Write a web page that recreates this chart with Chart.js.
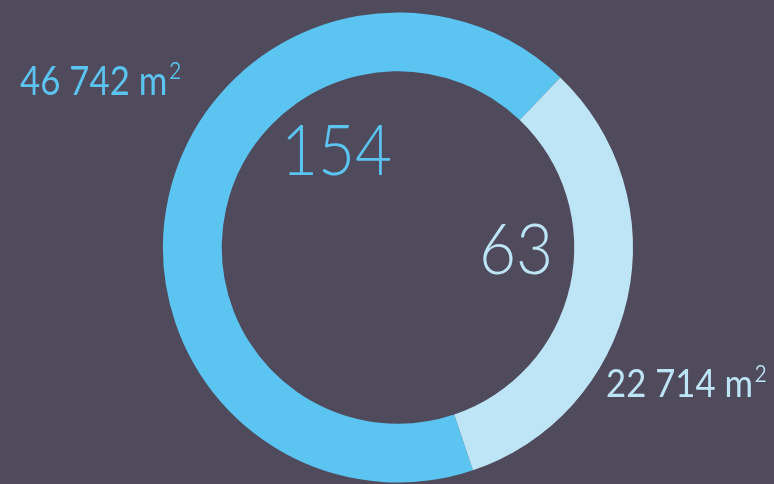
<!DOCTYPE html>
<html>
<head>
<meta charset="utf-8">
<script src="https://cdn.jsdelivr.net/npm/chart.js@4.4.0/dist/chart.umd.min.js"></script>
<style>
  html, body { margin:0; padding:0; background:#4f4b5d; overflow:hidden; }
  #wrap { position:relative; width:774px; height:484px; }
  #c { position:absolute; left:0; top:0; }
  .lbl { position:absolute; white-space:nowrap; font-family:"Lato", sans-serif; line-height:1; transform-origin:0 0; }
  .sup { font-size:1.2em; font-weight:300; position:relative; top:0.13em; line-height:0; margin-left:0.02em; }
</style>
</head>
<body>
<div id="wrap">
  <canvas id="c" width="774" height="484"></canvas>
  <div id="areaA" class="lbl"></div>
  <div id="areaB" class="lbl"></div>
  <div id="countA" class="lbl"></div>
  <div id="countB" class="lbl"></div>
</div>
<script>
const categories = ["A", "B"];
const areaValues = [46742, 22714];
const countValues = [154, 63];
const areaUnit = "m";
const unitSup = "²";
const segmentColors = ["#5bc4f0", "#bde5f6"];

function fmt(n){ return String(n).replace(/\B(?=(\d{3})+(?!\d))/g, " "); }

new Chart(document.getElementById('c'), {
  type: 'doughnut',
  data: {
    labels: categories,
    datasets: [{
      data: areaValues,
      backgroundColor: segmentColors,
      borderWidth: 0,
      hoverOffset: 0
    }]
  },
  options: {
    responsive: false,
    animation: false,
    devicePixelRatio: 1,
    rotation: 161.4,
    cutout: '75%',
    layout: { padding: { left: 22, right: 0, top: 12.5, bottom: 1.5 } },
    plugins: { legend: { display: false }, tooltip: { enabled: false } }
  }
});

function place(id, text, sup, color, fs, weight, left, baseline, sx){
  const el = document.getElementById(id);
  el.textContent = text;
  if (sup) {
    const s = document.createElement('span');
    s.className = 'sup';
    s.textContent = sup;
    el.appendChild(s);
  }
  el.style.color = color;
  el.style.fontSize = fs + 'px';
  el.style.fontWeight = weight;
  el.style.left = left + 'px';
  el.style.top = (baseline - 0.887*fs) + 'px';
  el.style.transform = 'scaleX(' + sx + ')';
}
place('areaA', fmt(areaValues[0]) + ' ' + areaUnit, unitSup, segmentColors[0], 40, 400, 20, 95, 0.87);
place('areaB', fmt(areaValues[1]) + ' ' + areaUnit, unitSup, segmentColors[1], 39, 400, 606, 398, 0.89);
place('countA', String(countValues[0]), '', segmentColors[0], 71, 300, 281, 175, 0.9);
place('countB', String(countValues[1]), '', segmentColors[1], 71, 300, 479, 274, 0.9);
</script>
</body>
</html>
